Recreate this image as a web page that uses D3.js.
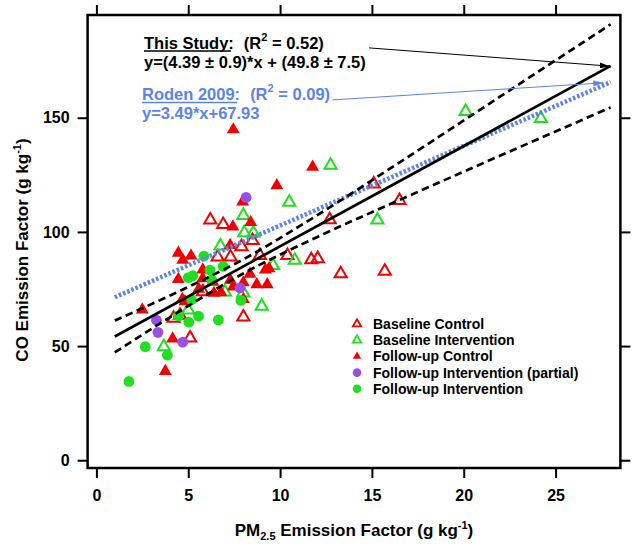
<!DOCTYPE html>
<html><head><meta charset="utf-8">
<script src="https://cdn.jsdelivr.net/npm/d3@7"></script>
<style>
body{margin:0;background:#fff}
svg text{font-family:"Liberation Sans",Arial,Helvetica,sans-serif;font-weight:bold}
</style>
</head><body>
<svg id="chart" width="635" height="545"></svg>
<script>
// ---------- data ----------
const xTicks = [0, 5, 10, 15, 20, 25];
const yTicks = [0, 50, 100, 150];

const seriesNames = ["Baseline Control", "Baseline Intervention", "Follow-up Control",
                     "Follow-up Intervention (partial)", "Follow-up Intervention"];

const baselineControl = [
  [6.2,105.2],[6.9,103.2],[7.9,93.5],[8.5,96.2],[6.6,89.0],[7.3,89.0],[8.9,89.7],
  [10.4,89.7],[11.7,87.8],[12.05,88.3],[12.7,105.3],[15.1,121.0],[16.5,113.8],
  [13.3,81.7],[15.7,82.8],[8.0,62.7],[5.1,53.5],[4.2,62.2],[5.8,73.8],[4.55,63.5]
];
const baselineIntervention = [
  [20.1,152.7],[24.2,149.7],[12.75,129.2],[10.5,113.0],[15.3,105.2],[8.0,107.2],
  [8.05,99.6],[8.55,99.5],[6.75,93.8],[10.8,87.6],[9.62,85.3],[7.0,73.7],[8.0,73.3],
  [9.0,67.5],[3.67,49.7],[5.0,65.8]
];
const followupControl = [
  [7.45,144.8],[11.77,128.4],[9.82,120.3],[7.96,113.2],[8.4,104.2],[7.43,102.3],
  [7.28,94.2],[4.46,90.8],[5.15,89.5],[4.7,87.7],[5.79,83.4],[5.79,79.6],[4.46,79.3],
  [6.34,78.1],[5.57,75.0],[7.29,78.9],[8.36,81.6],[9.2,83.4],[9.4,84.0],[8.73,77.0],
  [9.3,77.0],[8.0,77.8],[6.78,73.5],[7.45,76.0],[8.0,70.5],[4.68,70.5],[2.5,65.9],
  [4.15,53.2],[3.75,39.0],[4.82,69.5],[6.4,73.2]
];
const followupPartial = [
  [8.15,115.1],[7.82,75.5],[3.27,61.3],[3.35,56.0],[4.7,51.7]
];
const followupIntervention = [
  [1.77,34.5],[2.66,49.7],[3.86,46.0],[4.46,63.2],[5.03,60.5],[5.56,63.1],[6.64,61.5],
  [7.87,70.0],[5.0,80.0],[5.25,80.8],[5.18,70.3],[5.85,89.4],[6.18,83.3],[6.9,84.9],[6.27,79.0]
];

// fitted lines (end points / band points)
const fitX = [1, 28];
const fitY = [54.2, 172.7];
const rodenX = [1, 28];
const rodenY = [71.4, 165.6];
const bandX = [1, 4, 8, 12, 16, 20, 24, 28];
const bandUpper = [61.2, 72.1, 88.0, 107.2, 127.8, 148.8, 169.9, 190.9];
const bandLower = [47.2, 62.6, 81.8, 97.7, 112.2, 126.4, 140.5, 154.5];

// ---------- drawing ----------
const svg = d3.select("#chart");
const L = 87.6, R = 620.4, T = 15, B = 468;
const x = d3.scaleLinear().domain([-0.48, 28.53]).range([L, R]);
const y = d3.scaleLinear().domain([-3.4, 195]).range([B, T]);

const RED = "#f20000", GREEN = "#1ee01e", PURPLE = "#9a4fe6", BLUE = "#5b84e8";

const styles = [
  {type:"tri", fill:"none", stroke:RED},
  {type:"tri", fill:"none", stroke:GREEN},
  {type:"tri", fill:RED, stroke:"none"},
  {type:"circ", fill:PURPLE, stroke:"none"},
  {type:"circ", fill:GREEN, stroke:"none"}
];
const allSeries = [baselineControl, baselineIntervention, followupControl, followupPartial, followupIntervention];

// axes
function styleAxis(g){
  g.select(".domain").remove();
  g.selectAll(".tick line").attr("stroke","#000").attr("stroke-width",2);
  g.selectAll(".tick text").attr("fill","#000").style("font-size","16px");
}
svg.append("g").attr("transform",`translate(${L},0)`)
  .call(d3.axisLeft(y).tickValues(yTicks).tickSize(10).tickPadding(8)).call(styleAxis);
svg.append("g").attr("transform",`translate(${R},0)`)
  .call(d3.axisRight(y).tickValues(yTicks).tickSize(10).tickFormat("")).call(styleAxis);
svg.append("g").attr("transform",`translate(0,${B})`)
  .call(d3.axisBottom(x).tickValues(xTicks).tickSize(10).tickPadding(12)).call(styleAxis);
svg.append("g").attr("transform",`translate(0,${T})`)
  .call(d3.axisTop(x).tickValues(xTicks).tickSize(10).tickFormat("")).call(styleAxis);

// frame
svg.append("rect").attr("x",L).attr("y",T).attr("width",R-L).attr("height",B-T)
  .attr("fill","none").attr("stroke","#000").attr("stroke-width",2.5);

// markers
const triOpen = d3.symbol().type(d3.symbolTriangle).size(64);
const triFill = d3.symbol().type(d3.symbolTriangle).size(72);
allSeries.forEach((data,i)=>{
  const s = styles[i];
  const g = svg.append("g");
  if (s.type === "tri") {
    g.selectAll("path").data(data).join("path")
      .attr("d", s.fill === "none" ? triOpen() : triFill())
      .attr("transform", d=>`translate(${x(d[0])},${y(d[1])})`)
      .attr("fill", s.fill).attr("stroke", s.stroke).attr("stroke-width", 2);
  } else {
    g.selectAll("circle").data(data).join("circle")
      .attr("cx", d=>x(d[0])).attr("cy", d=>y(d[1])).attr("r", 5.4)
      .attr("fill", s.fill);
  }
});

// lines
const line = d3.line().x(d=>x(d[0])).y(d=>y(d[1]));
svg.append("path").datum(rodenX.map((v,i)=>[v,rodenY[i]])).attr("d",line)
  .attr("fill","none").attr("stroke",BLUE).attr("stroke-width",4.5).attr("stroke-dasharray","2.5,2");
const bandLine = d3.line().x(d=>x(d[0])).y(d=>y(d[1])).curve(d3.curveMonotoneX);
svg.append("path").datum(bandX.map((v,i)=>[v,bandUpper[i]])).attr("d",bandLine)
  .attr("fill","none").attr("stroke","#000").attr("stroke-width",2.7).attr("stroke-dasharray","7.5,4.5");
svg.append("path").datum(bandX.map((v,i)=>[v,bandLower[i]])).attr("d",bandLine)
  .attr("fill","none").attr("stroke","#000").attr("stroke-width",2.7).attr("stroke-dasharray","7.5,4.5");
svg.append("path").datum(fitX.map((v,i)=>[v,fitY[i]])).attr("d",line)
  .attr("fill","none").attr("stroke","#000").attr("stroke-width",2.7);

// arrowheads
const defs = svg.append("defs");
[["arrBlack","#000"],["arrBlue",BLUE]].forEach(([id,c])=>{
  defs.append("marker").attr("id",id).attr("viewBox","0 0 10 6").attr("refX",10).attr("refY",3)
    .attr("markerWidth",10).attr("markerHeight",6).attr("markerUnits","userSpaceOnUse").attr("orient","auto")
    .append("path").attr("d","M0,0 L10,3 L0,6 Z").attr("fill",c);
});
svg.append("line").attr("x1",x(14.84)).attr("y1",y(180.6)).attr("x2",x(27.95)).attr("y2",y(172.6))
  .attr("stroke","#000").attr("stroke-width",1).attr("marker-end","url(#arrBlack)");
svg.append("line").attr("x1",x(12.85)).attr("y1",y(157.8)).attr("x2",x(27.6)).attr("y2",y(165.3))
  .attr("stroke",BLUE).attr("stroke-width",1).attr("marker-end","url(#arrBlue)");

// annotation text
function titledLine(xp, yp, head, rest, color){
  const t = svg.append("text").attr("x",xp).attr("y",yp).attr("fill",color).style("font-size","16.5px");
  const h = t.append("tspan").text(head);
  t.append("tspan").attr("dx",10).text("(R");
  t.append("tspan").attr("dy",-8).style("font-size","11px").text("2");
  t.append("tspan").attr("dy",8).text(rest);
  const w = h.node().getComputedTextLength();
  svg.append("line").attr("x1",xp).attr("x2",xp+w-3).attr("y1",yp+2.5).attr("y2",yp+2.5)
    .attr("stroke",color).attr("stroke-width",1.3);
}
titledLine(144, 48.5, "This Study:", " = 0.52)", "#000");
svg.append("text").attr("x",144).attr("y",68).attr("fill","#000").style("font-size","16.5px")
  .text("y=(4.39 \u00b1 0.9)*x + (49.8 \u00b1 7.5)");
titledLine(142, 100, "Roden 2009:", " = 0.09)", BLUE);
svg.append("text").attr("x",142).attr("y",119).attr("fill",BLUE).style("font-size","16.5px")
  .text("y=3.49*x+67.93");

// legend
const legY0 = 324, legDy = 16.2, legX = 357;
const triLeg = d3.symbol().type(d3.symbolTriangle).size(30);
seriesNames.forEach((name,i)=>{
  const s = styles[i], yy = legY0 + i*legDy;
  if (s.type === "tri") {
    svg.append("path").attr("d",triLeg()).attr("transform",`translate(${legX},${yy})`)
      .attr("fill",s.fill).attr("stroke",s.stroke).attr("stroke-width",1.8);
  } else {
    svg.append("circle").attr("cx",legX).attr("cy",yy).attr("r",4.3).attr("fill",s.fill);
  }
  svg.append("text").attr("x",373).attr("y",yy+5).attr("fill","#000").style("font-size","14px").text(name);
});

// axis titles
const yt = svg.append("text").attr("transform","translate(28,250) rotate(-90)")
  .attr("text-anchor","middle").attr("fill","#000").style("font-size","17px");
yt.append("tspan").text("CO Emission Factor (g kg");
yt.append("tspan").attr("dy",-7).style("font-size","11px").text("-1");
yt.append("tspan").attr("dy",7).text(")");

const xt = svg.append("text").attr("x",354).attr("y",536)
  .attr("text-anchor","middle").attr("fill","#000").style("font-size","17px");
xt.append("tspan").text("PM");
xt.append("tspan").attr("dy",4).style("font-size","11px").text("2.5");
xt.append("tspan").attr("dy",-4).text(" Emission Factor (g kg");
xt.append("tspan").attr("dy",-7).style("font-size","11px").text("-1");
xt.append("tspan").attr("dy",7).text(")");
</script>
</body></html>
